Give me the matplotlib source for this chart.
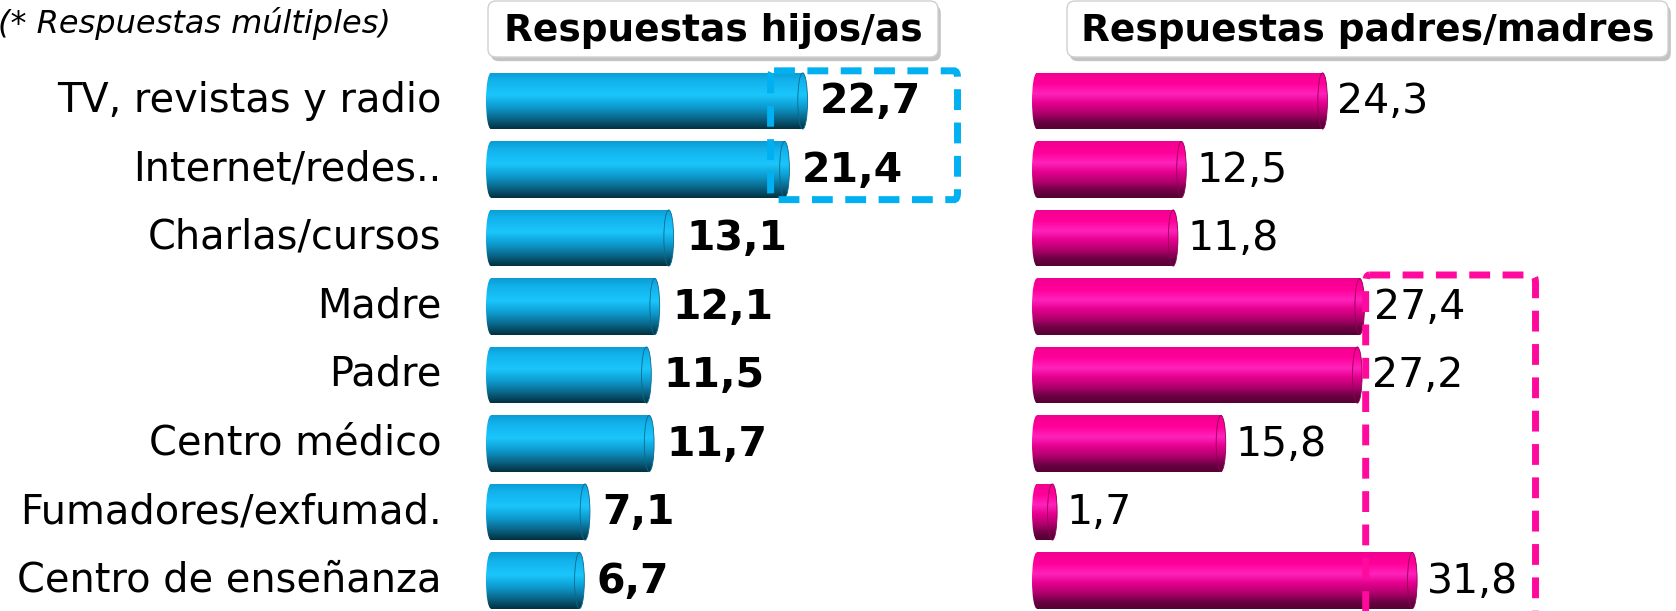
import numpy as np
import matplotlib
matplotlib.use('Agg')
import matplotlib.pyplot as plt
import matplotlib.patheffects as pe
from matplotlib.colors import LinearSegmentedColormap
from matplotlib.patches import Ellipse, FancyBboxPatch
from matplotlib.transforms import IdentityTransform

# data
categories = ['TV, revistas y radio', 'Internet/redes..', 'Charlas/cursos', 'Madre',
              'Padre', 'Centro médico', 'Fumadores/exfumad.', 'Centro de enseñanza']
hijos = [22.7, 21.4, 13.1, 12.1, 11.5, 11.7, 7.1, 6.7]
padres = [24.3, 12.5, 11.8, 27.4, 27.2, 15.8, 1.7, 31.8]
titles = ['Respuestas hijos/as', 'Respuestas padres/madres']
note = '(* Respuestas múltiples)'
# rows framed by the dashed boxes (first, last)
hijos_box_rows = (0, 1)
padres_box_rows = (3, 7)

W, H = 1676, 611
fig = plt.figure(figsize=(W / 100, H / 100), dpi=100)
plt.rcParams['font.family'] = 'DejaVu Sans'

blue_cmap = LinearSegmentedColormap.from_list('blue', [
    (0.0, '#0b9bd3'), (0.15, '#12b2ec'), (0.4, '#1ac6fb'), (0.6, '#0e9ed3'),
    (0.8, '#0a6a8e'), (1.0, '#03303f')])
pink_cmap = LinearSegmentedColormap.from_list('pink', [
    (0.0, '#f20090'), (0.2, '#ff0099'), (0.38, '#ff22bb'), (0.55, '#e4008e'),
    (0.72, '#b0006c'), (0.88, '#6a0042'), (1.0, '#550033')])
grad = np.linspace(0, 1, 256).reshape(-1, 1)

bar_h = 0.82
ylim = (7.445, -1.474)


def draw_panel(ax, values, cmap, cap_w, bold, pad):
    y = np.arange(len(values))
    bars = ax.barh(y, values, height=bar_h, color='none', edgecolor='none')
    for yi, v, patch in zip(y, values, bars.patches):
        im = ax.imshow(grad, cmap=cmap, aspect='auto', origin='upper',
                       extent=[cap_w / 2, v, yi + bar_h / 2, yi - bar_h / 2], zorder=2)
        im.set_clip_path(patch)
        # rounded left end
        left = Ellipse((cap_w / 2, yi), cap_w, bar_h, facecolor='none', edgecolor='none')
        ax.add_patch(left)
        iml = ax.imshow(grad, cmap=cmap, aspect='auto', origin='upper',
                        extent=[0, cap_w, yi + bar_h / 2, yi - bar_h / 2], zorder=2.5)
        iml.set_clip_path(left)
        # end cap
        cap = Ellipse((v, yi), cap_w, bar_h, facecolor='none',
                      edgecolor=cmap(0.8), lw=0.6, zorder=3.1)
        ax.add_patch(cap)
        imc = ax.imshow(grad, cmap=cmap, aspect='auto', origin='upper',
                        extent=[v - cap_w / 2, v + cap_w / 2, yi + bar_h / 2, yi - bar_h / 2],
                        zorder=3)
        imc.set_clip_path(cap)
        ax.annotate(f'{v:.1f}'.replace('.', ','), xy=(v + cap_w / 2, yi),
                    xytext=(pad, -1), textcoords='offset points', va='center', ha='left',
                    fontsize=29.5, fontweight='bold' if bold else 'normal', color='black',
                    zorder=5)
    ax.set_ylim(*ylim)
    ax.axis('off')


# left panel: children
ax1 = fig.add_axes([486 / W, 0, (960 - 486) / W, 1])
draw_panel(ax1, hijos, blue_cmap, 0.7, True, 9)
ax1.set_xlim(0, 474 / 13.95)
for i, c in enumerate(categories):
    ax1.text(-3.2, i, c, ha='right', va='center', fontsize=28.7, color='black')

# right panel: parents
ax2 = fig.add_axes([1032 / W, 0, (1676 - 1032) / W, 1])
draw_panel(ax2, padres, pink_cmap, 0.8, False, 7)
ax2.set_xlim(0, 644 / 11.96)

# dashed highlight boxes
r0, r1 = hijos_box_rows
ax1.add_patch(FancyBboxPatch((20.4, r0 - 0.44), 13.4, (r1 - r0) + 0.88,
                             boxstyle='round,pad=0,rounding_size=0.25', mutation_aspect=0.4,
                             facecolor='none', edgecolor='#00b0f0', lw=5,
                             linestyle=(0, (3, 1.8)), zorder=4, clip_on=False))
r0, r1 = padres_box_rows
ax2.add_patch(FancyBboxPatch((27.9, r0 - 0.46), 14.2, (r1 - r0) + 1.2,
                             boxstyle='round,pad=0,rounding_size=0.3', mutation_aspect=0.4,
                             facecolor='none', edgecolor='#ff0a9c', lw=5,
                             linestyle=(0, (3, 1.8)), zorder=4, clip_on=False))

# header boxes (pixel coordinates)
for (x0, x1), t in zip([(488, 938), (1067, 1668)], titles):
    box = FancyBboxPatch((x0, H - 57), x1 - x0, 56,
                         boxstyle='round,pad=0,rounding_size=8',
                         facecolor='white', edgecolor='#d0d0d0', lw=1,
                         transform=IdentityTransform(),
                         path_effects=[pe.SimplePatchShadow(offset=(2, -3), shadow_rgbFace='#888888', alpha=0.5),
                                       pe.Normal()])
    fig.patches.append(box)
    fig.text((x0 + x1) / 2 / W, 1 - 31 / H, t, ha='center', va='center',
             fontsize=27, fontweight='bold', color='black')

fig.text(-2 / W, 1 - 24 / H, note, ha='left', va='center', fontsize=23,
         style='italic', color='black')

fig.savefig('out.png', dpi=100)
